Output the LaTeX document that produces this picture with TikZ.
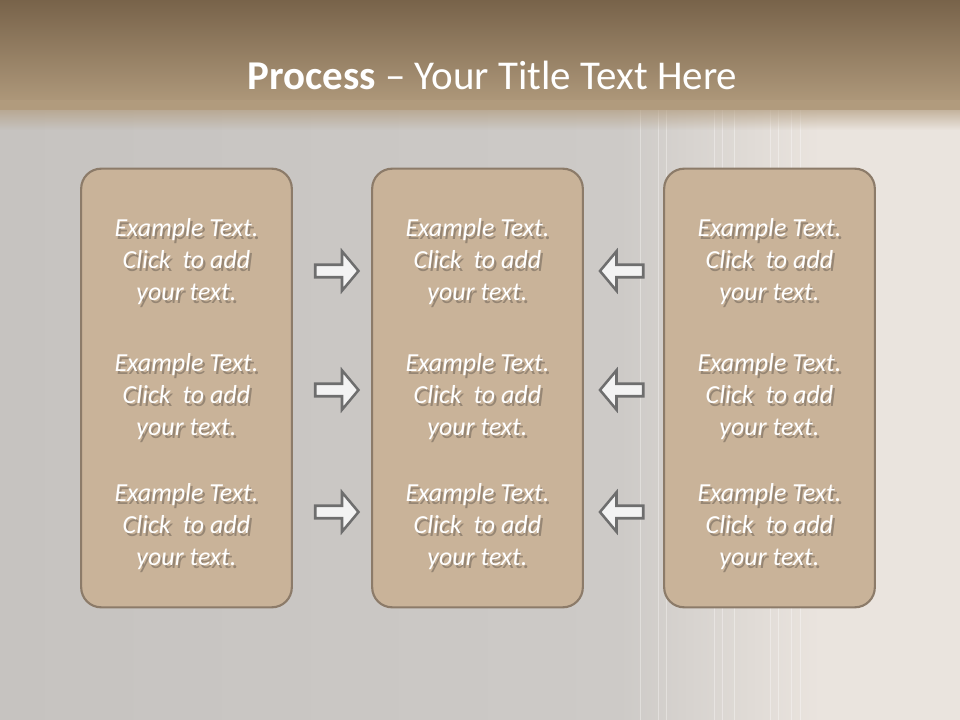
\documentclass[tikz,border=0pt]{standalone}
\usepackage{fontspec}
\setmainfont{Carlito}
\usetikzlibrary{fadings}
\definecolor{bandtop}{HTML}{78634A}
\definecolor{bandbot}{HTML}{B29C7E}
\definecolor{bgleft}{HTML}{C6C3C0}
\definecolor{bgmid}{HTML}{CDCAC7}
\definecolor{bgright}{HTML}{EAE4DE}
\definecolor{boxfill}{HTML}{C9B399}
\definecolor{boxline}{HTML}{8C7B69}
\definecolor{arrowfill}{HTML}{F3F3F3}
\definecolor{arrowline}{HTML}{6E6E6E}
\definecolor{shcol}{HTML}{968674}
\newcommand\shl[1]{\leavevmode\rlap{\kern1.6pt\raisebox{-1.8pt}{\textcolor{shcol}{#1}}}#1}
\tikzset{
  panel/.style={draw=boxline, line width=1.6pt, fill=boxfill, rounded corners=15pt,
    minimum width=158pt, minimum height=329pt, inner sep=0pt},
  txt/.style={font=\fontsize{19.5}{24}\selectfont\itshape, text=white, align=center, inner sep=0pt},
  arrstyle/.style={draw=arrowline, fill=arrowfill, line width=1.9pt, line join=miter},
  rarrow/.pic={\draw[arrstyle] (-22.25,-6.25) -- (4.5,-6.25) -- (4.5,-19.75) -- (21,0)
     -- (4.5,19.75) -- (4.5,6.25) -- (-22.25,6.25) -- cycle;},
  larrow/.pic={\draw[arrstyle] (22.25,-6.25) -- (-4.5,-6.25) -- (-4.5,-19.75) -- (-21,0)
     -- (-4.5,19.75) -- (-4.5,6.25) -- (22.25,6.25) -- cycle;},
  stripe/.style={white, opacity=0.35, line width=0.6pt}
}
\begin{document}
\begin{tikzpicture}[x=0.75pt,y=-0.75pt]
\useasboundingbox (0,0) rectangle (960,720);
% background
\shade[left color=bgleft, right color=bgmid] (0,0) rectangle (620,720);
\shade[left color=bgmid, right color=bgright] (620,0) rectangle (820,720);
\fill[bgright] (820,0) rectangle (960,720);
% stripes
\foreach \sx in {640,658,666,714,722,734,770,778,791,800}
  \draw[stripe] (\sx,110) -- (\sx,720);
% top band
\shade[top color=bandtop, bottom color=bandbot] (0,0) rectangle (960,110);
\fill[bandbot, path fading=south] (0,100) rectangle (960,130);
% title
\node[text=white, font=\fontsize{30.7}{36}\selectfont, inner sep=0pt] (title) at (492.5,75)
  {\textbf{Process} -- Your Title Text Here};
% panels
\node[panel] (L) at (186.5,388) {};
\node[panel] (M) at (477.5,388) {};
\node[panel] (R) at (769.5,388) {};
% texts
\foreach \bx/\bn in {186.5/L,477.5/M,769.5/R}{
  \foreach \ty/\tn in {263/1,398/2,528/3}{
    \node[txt] (\bn\tn) at (\bx,\ty) {\shl{Example Text.}\\\shl{Click\ \ to add}\\\shl{your text.}};
  }
}
% arrows
\pic (ra1) at (337.5,271) {rarrow};
\pic (ra2) at (337.5,390) {rarrow};
\pic (ra3) at (337.5,512) {rarrow};
\pic (la1) at (621,271) {larrow};
\pic (la2) at (621,390) {larrow};
\pic (la3) at (621,512) {larrow};
\end{tikzpicture}
\end{document}
